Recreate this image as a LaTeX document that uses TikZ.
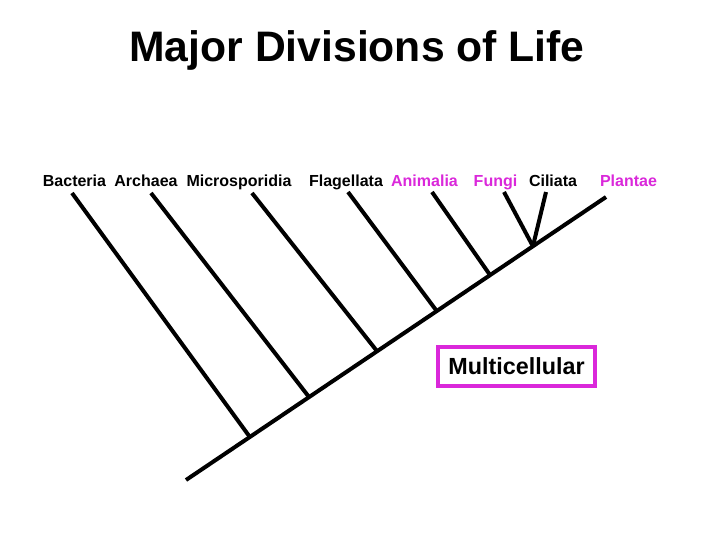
\documentclass[tikz,border=0pt]{standalone}
\usepackage{fontspec}
\setmainfont{Liberation Sans}
\usetikzlibrary{calc}
\definecolor{mag}{RGB}{218,40,218}
\begin{document}
\begin{tikzpicture}[x=0.75pt,y=-0.75pt,
  branch/.style={line width=3pt},
  lbl/.style={font=\bfseries\fontsize{12}{14}\selectfont, inner sep=0pt, anchor=base},
  maglbl/.style={lbl, text=mag}]
\useasboundingbox (0,0) rectangle (720,540);
\node[font=\bfseries\fontsize{32}{36}\selectfont, anchor=base] (title) at (357,61) {Major Divisions of Life};
% labels
\node[lbl] (bac) at (74.5,186) {Bacteria};
\node[lbl] (arc) at (146,186) {Archaea};
\node[lbl] (mic) at (239,186) {Microsporidia};
\node[lbl] (fla) at (346,186) {Flagellata};
\node[maglbl] (ani) at (424.5,186) {Animalia};
\node[maglbl] (fun) at (495.5,186) {Fungi};
\node[lbl] (cil) at (553,186) {Ciliata};
\node[maglbl] (pla) at (628.5,186) {Plantae};
% trunk
\coordinate (root) at (186,480);
\coordinate (tip) at (606,197);
\draw[branch] (root) -- (tip);
\coordinate (j1) at ($(root)!0.152!(tip)$);
\coordinate (j2) at ($(root)!0.293!(tip)$);
\coordinate (j3) at ($(root)!0.455!(tip)$);
\coordinate (j4) at ($(root)!0.597!(tip)$);
\coordinate (j5) at ($(root)!0.724!(tip)$);
\coordinate (j6) at ($(root)!0.826!(tip)$);
\coordinate (t1) at (72,193);
\coordinate (t2) at (151,193);
\coordinate (t3) at (252,193);
\coordinate (t4) at (348,192);
\coordinate (t5) at (432,192);
\coordinate (t6) at (504,192);
\coordinate (t7) at (546,192);
\draw[branch] (t1) -- (j1);
\draw[branch] (t2) -- (j2);
\draw[branch] (t3) -- (j3);
\draw[branch] (t4) -- (j4);
\draw[branch] (t5) -- (j5);
\draw[branch] (t6) -- (j6);
\draw[branch] (t7) -- (j6);
% box
\node[draw=mag, line width=3pt, minimum width=157*0.75pt, minimum height=39*0.75pt,
  inner sep=0pt, font=\bfseries\fontsize{17.5}{20}\selectfont] (multi) at (516.5,366.5) {Multicellular};
\end{tikzpicture}
\end{document}
